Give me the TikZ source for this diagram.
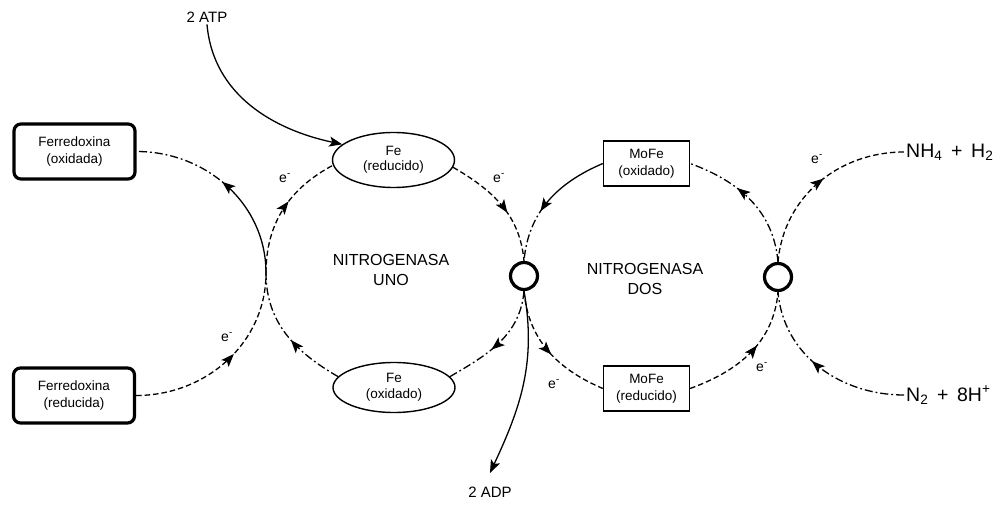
\documentclass[tikz,border=0pt]{standalone}
\usepackage{fontspec}
\setmainfont{Liberation Sans}
\usetikzlibrary{arrows.meta,decorations.markings,shapes.geometric}

\tikzset{
  x=1pt, y=1pt,
  link/.style={line width=1.3pt},
  dsh/.style={link, dash pattern=on 5.5pt off 3pt},
  ddot/.style={link, dash pattern=on 8pt off 3pt on 1.8pt off 3pt},
  solidthendd/.style={link, dash pattern=on #1 off 3pt on 1.8pt off 3pt on 8pt off 3pt
      on 1.8pt off 3pt on 8pt off 3pt on 1.8pt off 3pt on 8pt off 3pt on 1.8pt off 3pt
      on 8pt off 3pt on 1.8pt off 3pt on 8pt off 3pt on 1.8pt off 3pt on 8pt off 3pt
      on 1.8pt off 3pt on 8pt off 3pt on 1.8pt off 3pt},
  arrowat/.style={postaction={decorate},
      decoration={markings, mark=at position #1 with
        {\pgfsetdash{}{0pt}\arrow[line width=1pt]{Stealth[length=13pt,width=10pt,inset=3pt]}}}},
  endarrow/.style={-{Stealth[length=13pt,width=10pt,inset=3pt]}},
  ferro/.style={draw, line width=3.2pt, rounded corners=7pt, minimum width=121pt,
      minimum height=55pt, align=center, font=\fontsize{13.5}{17}\selectfont},
  feell/.style={ellipse, draw, line width=1.4pt, minimum width=122pt, inner sep=0pt,
      align=center, font=\fontsize{13.5}{15.5}\selectfont},
  mofe/.style={draw, line width=1.3pt, minimum width=86pt, minimum height=45pt,
      align=center, font=\fontsize{13.5}{17}\selectfont},
  junc/.style={circle, draw, line width=3.2pt, minimum size=27pt, inner sep=0pt},
  elab/.style={font=\fontsize{14}{14}\selectfont, inner sep=0pt},
  title/.style={align=center, font=\fontsize{16}{19.5}\selectfont},
  big/.style={font=\fontsize{19.5}{20}\selectfont, inner sep=2pt},
  mid/.style={font=\fontsize{15}{15}\selectfont, inner sep=2pt},
}

\begin{document}
\begin{tikzpicture}
\useasboundingbox (0,0) rectangle (1002,504);

% enzymes and carriers
\node[ferro] (fdo) at (74.5,352.5) {Ferredoxina\\(oxidada)};
\node[ferro] (fdr) at (74,108.5) {Ferredoxina\\(reducida)};
\node[feell, minimum height=55pt] (fer) at (393.5,344) {Fe\\(reducido)};
\node[feell, minimum height=50pt] (feo) at (394,116.5) {Fe\\(oxidado)};
\node[mofe] (mfo) at (646.5,340.5) {MoFe\\(oxidado)};
\node[mofe] (mfr) at (646.5,115.5) {MoFe\\(reducido)};
\node[junc] (j1) at (524,228) {};
\node[junc] (j2) at (778,227) {};
\coordinate (x1) at (266,231);

% substrates and products
\node[big, anchor=west] (nh) at (904,352) {NH\textsubscript{4} \,+\, H\textsubscript{2}};
\node[big, anchor=west] (nt) at (904,109) {N\textsubscript{2} \,+\, 8H\textsuperscript{+}};
\node[mid] (atp) at (207,487) {2 ATP};
\node[mid] (adp) at (490,12) {2 ADP};
\coordinate (adpin) at (490,31);

\node[title] (uno) at (391,234) {NITROGENASA\\UNO};
\node[title] (dos) at (645,225) {NITROGENASA\\DOS};

% nitrogenasa uno cycle
\draw[dsh, arrowat=0.55] (fdr.east) to[out=0,in=-90] (x1);
\draw[dsh, arrowat=0.57] (x1) to[out=90,in=208] (fer.185);
\draw[ddot, arrowat=0.45] (feo.169) to[out=150,in=-90] (x1);
\draw[solidthendd=100pt, arrowat=0.53] (x1) to[out=90,in=0] (fdo.east);
\draw[dsh, arrowat=0.58] (fer.353) to[out=-30,in=95] (j1.north);
\draw[solidthendd=82pt, arrowat=0.6] (mfo.west) to[out=203,in=85] (j1.north);
\draw[ddot, arrowat=0.58] (j1.south) to[out=-95,in=30] (feo.11);
\draw[link, endarrow] (atp.south) to[out=-85,in=168] (fer.163);
\draw[link, endarrow] (j1.south) to[out=-80,in=65] (adpin);

% nitrogenasa dos cycle
\draw[dsh, arrowat=0.53] (j1.south) to[out=-85,in=157] (mfr.west);
\draw[ddot, arrowat=0.62] (j2.north) to[out=95,in=-20] (mfo.east);
\draw[dsh, arrowat=0.53] (j2.north) to[out=85,in=180] (nh.west);
\draw[dsh, arrowat=0.58] (mfr.east) to[out=20,in=-95] (j2.south);
\draw[ddot, arrowat=0.56] (nt.west) to[out=180,in=-85] (j2.south);

% electron labels
\node[elab] (e1) at (285,326) {e\textsuperscript{-}};
\node[elab] (e2) at (499,326) {e\textsuperscript{-}};
\node[elab] (e3) at (227,167) {e\textsuperscript{-}};
\node[elab] (e4) at (554,120) {e\textsuperscript{-}};
\node[elab] (e5) at (817,345) {e\textsuperscript{-}};
\node[elab] (e6) at (762,137) {e\textsuperscript{-}};
\end{tikzpicture}
\end{document}
